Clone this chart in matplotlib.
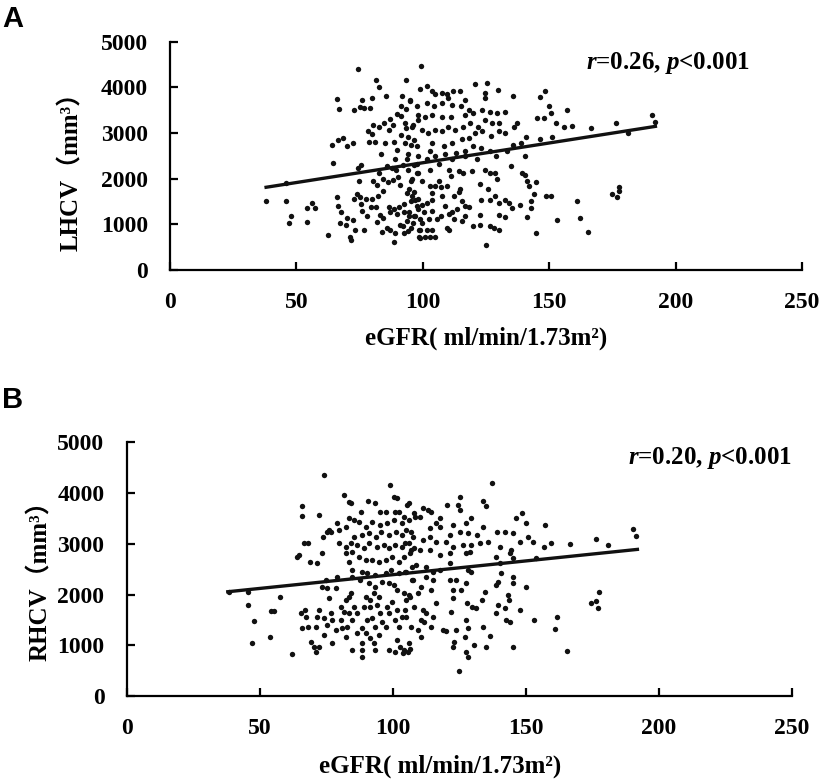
import numpy as np
import matplotlib.pyplot as plt

plt.rcParams['font.family'] = ['Liberation Serif', 'Noto Sans CJK SC']
plt.rcParams['font.weight'] = 'bold'
plt.rcParams['mathtext.fontset'] = 'custom'
plt.rcParams['mathtext.it'] = 'Liberation Serif:bold:italic'
plt.rcParams['mathtext.rm'] = 'Liberation Serif:bold'

# panel A: eGFR vs LHCV
points_a = [
    (38, 1506), (46, 1915), (46, 1506), (47, 1037), (48, 1184), (54, 1366), (56, 1476), (57.5, 1350),
    (54, 1045), (62.6, 760), (66, 3750), (67, 3524), (64.6, 2340), (64, 2727), (66.5, 2836), (68.6, 2880),
    (70.2, 2720), (72.2, 2790), (74.5, 4400), (66, 1608), (66.6, 1405), (67.5, 1260), (67.2, 1030),
    (69.5, 990), (71.2, 730), (71.5, 650), (72.7, 3510), (75, 3570), (76.6, 3550), (79.2, 3550),
    (75.9, 3730), (79.8, 3770), (81.5, 4150), (82.7, 4010), (85.5, 3800), (75.4, 2290), (74.3, 2240),
    (74.7, 1950), (74, 1670), (72.7, 1550), (75, 1590), (75.5, 1440), (70.2, 1130), (72.2, 1100),
    (73.3, 880), (76.7, 880), (75.9, 1300), (77.9, 1190), (77.6, 1550), (79.3, 1370), (81.6, 1390),
    (81.9, 1040), (83.9, 840), (85.9, 930), (87.2, 880), (88.6, 610), (89, 810), (91, 990), (92.3, 960),
    (84.2, 1140), (83.2, 1210), (79.8, 1550), (81.8, 1850), (80.3, 1950), (82.4, 1630), (84.4, 1740),
    (82.8, 2120), (85.7, 2270), (87.7, 2240), (84.4, 1990), (86.3, 1920), (88.3, 1960), (89.4, 2200),
    (90.3, 2030), (91, 1850), (92.3, 2290), (93.6, 2440), (89, 2440), (89.6, 2620), (83.3, 2550),
    (85, 2770), (81, 2810), (78.9, 2810), (79.8, 2970), (78.4, 3045), (80.4, 3180), (82.6, 3140),
    (84.6, 3210), (86.6, 3070), (88.3, 3180), (87.2, 3310), (89.6, 3410), (91.5, 3380), (91.3, 3580),
    (91.9, 3820), (93.5, 4150), (95, 3710), (93.3, 3530), (93.3, 3110), (91.3, 2960), (88.7, 2810),
    (95.3, 2740), (96.6, 2850), (94, 2920), (96, 3180), (98, 3400), (98.7, 3970), (99.1, 4470),
    (96.6, 2290), (97.6, 2120), (95.3, 1950), (94.6, 1770), (96.6, 1700), (98, 1550), (95.3, 1520),
    (92.6, 1440), (90.6, 1370), (88.6, 1330), (86.6, 1370), (87, 1260), (89.9, 1230), (92.5, 1260),
    (94.5, 1190), (96.6, 1190), (98, 1330), (98.7, 1110), (93.8, 1070), (95.4, 920), (92.7, 810),
    (98.7, 880), (98.7, 700),
    (101.5, 4030), (103.5, 3910), (104.8, 3860), (107.4, 3870), (109.4, 3860), (112, 3910), (114.6, 3930),
    (120.7, 4080), (125.5, 4090), (124.5, 3880), (129.7, 3950), (124.5, 3770), (135.7, 3810),
    (148.3, 3930), (146.3, 3790), (150, 3600), (157.2, 3510), (150.8, 3440), (145.3, 3330), (148, 3330),
    (152.5, 3220), (155.8, 3130), (159, 3160), (166.4, 3110), (176.4, 3220), (190.5, 3385), (191.8, 3230),
    (181.2, 3010), (150.9, 2910), (146.2, 2870), (141, 2920), (139, 2780), (135.7, 2740), (140.4, 2490),
    (133.4, 2600), (128.8, 2490), (121.4, 2420), (116.8, 2490), (111.6, 2420), (134.7, 2270),
    (139.3, 2120), (140.6, 2080), (141.3, 1950), (141.9, 1840), (144.6, 1920), (144, 1660), (148.6, 1630),
    (150.6, 1610), (160.9, 1500), (162.2, 1130), (153, 1100), (165.5, 840), (144.6, 800), (141.3, 1170),
    (142.6, 1500), (142.6, 1350), (138.6, 1430), (135.3, 1350), (134, 1460), (132.7, 1540), (130, 1460),
    (130, 1210), (132.7, 1170), (128, 920), (126.5, 960), (130, 880), (125, 550), (122.6, 990), (120, 960),
    (122.6, 1210), (123.2, 1540), (126.5, 1540), (128.5, 1610), (125.9, 1770), (122.6, 1880),
    (129.2, 1990), (128.5, 2130), (126.5, 2130), (124.5, 2200), (119.3, 2170), (116, 2130), (114.3, 2170),
    (110.3, 2200), (111, 2060), (106.4, 1950), (105, 1840), (107, 1810), (109.6, 1840), (114.9, 1770),
    (114.3, 1700), (112.2, 1630), (115.5, 1520), (116.8, 1400), (118.2, 1370), (113.5, 1330),
    (111.6, 1260), (110.3, 1220), (107, 1190), (105.6, 1110), (109.6, 930), (110.3, 880), (112.3, 1110),
    (103.7, 880), (101.6, 880), (105, 720), (103, 720), (101, 720), (98.3, 720), (98.3, 880), (99.6, 1030),
    (97, 1180), (94.4, 1260), (97.6, 1400), (99.6, 1430), (101.6, 1460), (103.6, 1540), (97, 1540),
    (95.7, 1610), (93.7, 1680), (103.6, 1680), (103, 1840), (99.6, 1950), (95.6, 1990), (98.2, 2130),
    (103, 2200), (106.4, 2310), (101.6, 2420), (98.2, 2490), (94.3, 2530), (103, 2600), (97.6, 2710),
    (93, 2780), (103.6, 2780), (108.3, 2710), (111.6, 2780), (115.5, 2860), (118.3, 2890), (120.8, 3000),
    (123.4, 3040), (126.8, 2930), (130, 3040), (132.7, 3000), (136, 3140), (137.3, 3220), (130, 3220),
    (127.3, 3220), (124.6, 3290), (122, 3140), (118.6, 3220), (116, 3140), (112.7, 3070), (110, 3140),
    (107.4, 3040), (104.8, 3070), (102.2, 3000), (99.6, 3070), (95.6, 3140), (93, 3220), (98.2, 3290),
    (100.8, 3360), (103.6, 3400), (107.4, 3360), (111.3, 3360), (116.6, 3400), (120, 3440), (123.4, 3510),
    (126.6, 3470), (129.4, 3440), (132.7, 3470), (115, 3580), (111.6, 3620), (107.4, 3650), (104.6, 3580),
    (101.6, 3650), (97.6, 3580), (95, 3730), (116.8, 3730), (118.3, 3510), (110, 3770), (119.7, 2710),
    (123, 2670), (126.5, 2600), (116.8, 2600), (113.3, 2560), (104.7, 2490), (108.7, 2530), (97.6, 2310),
    (94.3, 2200), (107.6, 1630), (108.9, 1400), (100.3, 1260), (103.6, 1290), (102.3, 1110), (96, 1030),
    (94, 850), (116.8, 1190), (115.5, 1080), (174.7, 1660), (176.7, 1600), (177.4, 1820), (177.4, 1720),
]

# panel B: eGFR vs RHCV
points_b = [
    (38.4, 2057), (45.5, 2043), (45.5, 1794), (48, 1485), (47, 1038), (54, 1156), (54.2, 1675),
    (55.5, 1675), (57.7, 1958), (62.3, 821), (63.9, 2746), (64.6, 2779), (65.8, 3752), (65.8, 3548),
    (66.7, 3009), (68, 3009), (69, 2648), (71.7, 2628), (72.3, 3568), (74.2, 4356), (73.6, 2812),
    (73.8, 3141), (75.4, 3239), (76, 3272), (76.7, 3239), (73.3, 2155), (74.8, 2286), (75.4, 2122),
    (76, 1925), (78.6, 2122), (65.5, 1643), (67.1, 1695), (67.3, 1564), (66, 1334), (68.3, 1367),
    (71, 1367), (71.7, 1564), (72.3, 1695), (74.2, 1531), (75.4, 1400), (76.7, 1630), (69.2, 1071),
    (70.4, 972), (71, 874), (72.3, 972), (74.2, 1202), (77.3, 1038), (78.6, 1301), (77.3, 1498),
    (80.4, 1498), (81.7, 1662), (80.4, 1761), (82.3, 1892), (83.5, 1958), (84.5, 2024), (81, 1334),
    (82.3, 1170), (82.9, 1367), (84.8, 1498), (83.5, 1629), (85.4, 1761), (86.7, 1629), (84.8, 907),
    (88.3, 762), (88.5, 907), (88.5, 1038), (86.7, 1235), (88.5, 1334), (89.8, 1235), (91.6, 1137),
    (92.9, 1038), (93.5, 907), (90.4, 1498), (92.3, 1531), (93.5, 1367), (89.2, 1761), (91.6, 1761),
    (89.8, 1958), (91.6, 1892), (92.9, 2024), (94.8, 1958), (94.1, 1794), (95.4, 1629), (96, 1465),
    (97.3, 1367), (94.8, 1202), (98.5, 907), (101, 874), (101.6, 1104), (102.9, 972), (104.2, 907),
    (106.4, 920), (98.6, 1629), (97.9, 1761), (99.8, 1859), (101.6, 1695), (101, 1498), (102.2, 1367),
    (103.5, 1564), (104.7, 1695), (106.6, 1958), (104.1, 2024), (101.6, 2090), (100.4, 2188),
    (98.5, 2221), (96, 2254), (93.5, 2155), (91, 2221), (87.9, 2286), (84.8, 2352), (79.2, 2352),
    (84.8, 2484), (88.5, 2451), (90.4, 2418), (93.5, 2385), (97.3, 2418), (99.2, 2484), (102.2, 2418),
    (104.7, 2451), (107.2, 2286), (107.2, 2549), (83.5, 2648), (82.3, 2812), (84.8, 2845), (87.3, 2746),
    (89.8, 2681), (92.3, 2681), (94.8, 2648), (97.3, 2681), (99.8, 2746), (102.2, 2648), (104.1, 2746),
    (106.6, 2812), (79.8, 3009), (82.3, 2943), (84.2, 3009), (86.7, 2976), (89.2, 2911), (91, 3009),
    (94.1, 2943), (96.6, 2976), (98.5, 2911), (101, 2976), (103.5, 2943), (106, 3009), (107.9, 2911),
    (85.4, 3141), (88.5, 3173), (91.1, 3206), (93.6, 3141), (95.5, 3239), (98.6, 3173), (101.1, 3239),
    (103.6, 3173), (106.7, 3239), (79.8, 3272), (82.3, 3338), (83.5, 3502), (85.4, 3469), (87.3, 3436),
    (89.8, 3338), (92.3, 3436), (95.4, 3370), (97.9, 3403), (100.4, 3469), (103.5, 3403), (106, 3469),
    (108.5, 3535), (79.2, 3403), (81.7, 3962), (83.4, 3831), (84.3, 3798), (90.8, 3850), (93.5, 3798),
    (99.1, 4159), (100.4, 3929), (101.6, 3896), (101, 3633), (102.2, 3633), (104.1, 3535), (105.4, 3765),
    (95.4, 3633), (97.3, 3633), (88, 3633),
    (137.5, 4205), (125.2, 3929), (133.9, 3850), (135.2, 3745), (120.5, 3765), (124.5, 3765),
    (125.2, 3666), (111.4, 3699), (113.3, 3666), (114.5, 3633), (106.3, 3798), (108.2, 3600),
    (110.1, 3535), (116.4, 3403), (117.7, 3338), (122.7, 3370), (127.7, 3403), (129.6, 3502),
    (125.4, 3239), (128.5, 3206), (131.6, 3173), (134.1, 3338), (139.1, 3239), (142.3, 3239),
    (145.4, 3206), (146.5, 3502), (148.5, 3600), (150.3, 3403), (157.2, 3370), (150.9, 3141),
    (152.8, 3042), (148, 3042), (156.8, 2930), (159.7, 3009), (166.6, 2996), (176.3, 3088), (181, 2976),
    (190.4, 3285), (191.6, 3154), (154, 2714), (144.6, 2878), (144, 2812), (140.2, 2943), (135.8, 3042),
    (132.7, 3009), (129.5, 2976), (126.4, 2976), (122.6, 2943), (120.1, 3042), (116.4, 3042),
    (113.9, 3141), (111.4, 3075), (107.6, 3141), (105.1, 3272), (104.5, 3009), (107, 2878), (110.1, 2878),
    (113.9, 2878), (117.6, 2779), (121.4, 2812), (127.7, 2812), (128.9, 2845), (139, 2746), (140.2, 2615),
    (145.2, 2714), (121.4, 2615), (117.6, 2484), (115.1, 2451), (112.6, 2549), (108.8, 2582),
    (105.1, 2451), (107.6, 2286), (112.6, 2352), (115.1, 2286), (121.4, 2286), (123.9, 2286),
    (128.3, 2484), (129.5, 2451), (140.8, 2418), (139.6, 2254), (145.2, 2352), (145.2, 2221),
    (150.3, 2155), (134.6, 2057), (133.4, 1892), (139, 2188), (143.3, 1991), (143.9, 1892), (139.6, 1794),
    (142.2, 1728), (148, 1695), (139, 1629), (128.1, 1827), (130, 1761), (131.3, 1728), (127.4, 1498),
    (122.6, 2090), (125.8, 2090), (127.7, 2221), (122.6, 1925), (122, 1662), (116.4, 1827), (114.5, 2090),
    (110.7, 2155), (109.4, 2024), (106.3, 1991), (105.1, 1892), (108.2, 1761), (111.4, 1695),
    (112.6, 1629), (115.1, 1564), (110.6, 1498), (111.9, 1465), (105.1, 1564), (107, 1367), (109.6, 1301),
    (114.5, 1367), (118.9, 1301), (120.1, 1288), (123.9, 1301), (128.3, 1334), (133.9, 1353),
    (136.4, 1183), (127, 1170), (123.2, 1071), (122.6, 972), (127.6, 874), (128.2, 762), (130.7, 1005),
    (134.9, 959), (124.9, 499), (110.7, 1170), (106.3, 1038), (105.7, 874), (103.8, 841), (145.2, 959),
    (142.7, 1498), (144, 1465), (153, 1498), (161.9, 1551), (160.9, 1314), (165.6, 894), (174.7, 1840),
    (176.3, 1879), (177.4, 2057), (177.2, 1728), (121.4, 3173), (117.7, 3502), (113.9, 3305),
]

egfr_a = np.array([p[0] for p in points_a])
lhcv = np.array([p[1] for p in points_a])
egfr_b = np.array([p[0] for p in points_b])
rhcv = np.array([p[1] for p in points_b])

# fitted lines as printed (slope, intercept) and x range of the fit
fit_a = (8.66, 1482)
fit_b = (5.42, 1849)
fit_range = [38, 192]

stats_a = '$r$=0.26, $p$<0.001'
stats_b = '$r$=0.20, $p$<0.001'

fig = plt.figure(figsize=(8.21, 7.83), dpi=100)
ax_a = fig.add_axes([0.2071, 0.6552, 0.7698, 0.2916])
ax_b = fig.add_axes([0.1543, 0.1111, 0.8100, 0.3240])

panels = [
    (ax_a, egfr_a, lhcv, fit_a, stats_a, 'LHCV（mm³）', (-0.138, 0.46), (0.5, -0.25), (229.5, 4540)),
    (ax_b, egfr_b, rhcv, fit_b, stats_b, 'RHCV（mm³）', (-0.112, 0.48), (0.471, -0.232), (250, 4690)),
]

for ax, x, y, fit, stats, ylab, ylab_pos, xlab_pos, stats_pos in panels:
    ax.scatter(x, y, s=15, color='#111111', linewidths=0, zorder=2)
    fx = np.array(fit_range)
    ax.plot(fx, fit[0] * fx + fit[1], color='#111111', lw=2.4, zorder=3)
    ax.set_xlim(0, 250)
    ax.set_ylim(0, 5000)
    ax.set_xticks([0, 50, 100, 150, 200, 250])
    ax.set_yticks([0, 1000, 2000, 3000, 4000, 5000])
    for s in ['top', 'right']:
        ax.spines[s].set_visible(False)
    for s in ['left', 'bottom']:
        ax.spines[s].set_linewidth(1.6)
    ax.tick_params(direction='in', length=6, width=1.6, labelsize=17, pad=16)
    ax.set_ylabel(ylab, fontsize=18, fontweight='bold')
    ax.yaxis.set_label_coords(*ylab_pos)
    ax.set_xlabel('eGFR( ml/min/1.73m²)', fontsize=18, fontweight='bold')
    ax.xaxis.set_label_coords(*xlab_pos)
    ax.text(stats_pos[0], stats_pos[1], stats, fontsize=18, ha='right', va='center')

fig.text(0.003, 0.976, 'A', family='Liberation Sans', fontsize=21, fontweight='bold', va='center')
fig.text(0.003, 0.489, 'B', family='Liberation Sans', fontsize=21, fontweight='bold', va='center')

fig.savefig('out.png', dpi=100)
